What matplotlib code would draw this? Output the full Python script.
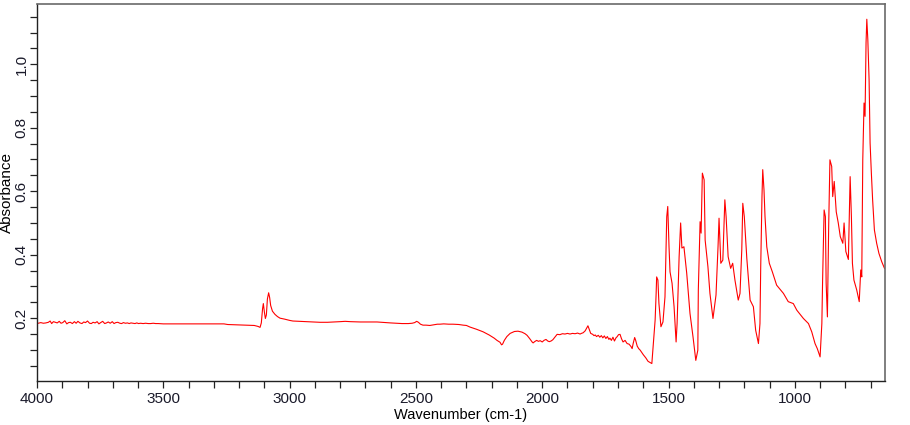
import numpy as np
import matplotlib
matplotlib.use("Agg")
import matplotlib.pyplot as plt
from matplotlib.ticker import MultipleLocator, FixedLocator

plt.rcParams['font.family'] = ['Liberation Sans', 'DejaVu Sans']

# ------------------------------------------------------------------
# spectrum data (wavenumber cm-1 / absorbance)
# ------------------------------------------------------------------
wn_high = [4000, 3995, 3985, 3975, 3965, 3955, 3948, 3942, 3935, 3928,
           3920, 3912, 3905, 3898, 3890, 3882, 3875, 3868, 3860, 3852,
           3845, 3838, 3830, 3822, 3815, 3808, 3800, 3792, 3785, 3778,
           3770, 3762, 3755, 3748, 3740, 3732, 3725, 3718, 3710, 3702,
           3695, 3688, 3680, 3672, 3665, 3658, 3650, 3642, 3635, 3628,
           3620, 3612, 3605, 3598, 3590, 3580, 3570, 3560, 3550, 3540,
           3530, 3520, 3500]
abs_high = [.184, .184, .186, .184, .185, .187, .191, .183, .189, .187,
            .185, .190, .184, .186, .192, .182, .186, .187, .183, .189,
            .184, .190, .185, .183, .188, .186, .191, .184, .183, .187,
            .185, .189, .182, .186, .190, .183, .185, .188, .184, .189,
            .183, .186, .187, .184, .183, .186, .184, .185, .183, .185,
            .184, .183, .185, .183, .184, .183, .184, .183, .183, .184,
            .183, .183, .182]

wn_mid = [3260, 3245, 3180, 3140, 3125, 3117, 3112, 3107, 3104, 3100,
          3096, 3092, 3088, 3083, 3079, 3075, 3068, 3058, 3048, 3038,
          3020, 3000, 2987, 2960, 2930, 2900, 2880, 2850, 2820, 2800,
          2780, 2760, 2720, 2680, 2654, 2620, 2600, 2580, 2555, 2530,
          2515, 2505, 2497, 2490, 2482, 2472, 2460, 2445, 2430, 2415,
          2405, 2390, 2370, 2353, 2330, 2313, 2300, 2294, 2286, 2260,
          2234, 2210, 2190, 2179, 2167, 2161, 2157, 2150, 2140, 2127,
          2110, 2096, 2080, 2068, 2060, 2050, 2040, 2036, 2030, 2022,
          2015, 2008, 2000]
abs_mid = [.182, .180, .178, .177, .174, .171, .185, .230, .246, .220,
           .199, .210, .260, .280, .265, .240, .222, .212, .205, .200,
           .197, .193, .191, .190, .189, .188, .187, .187, .188, .189,
           .190, .189, .188, .188, .188, .186, .185, .184, .183, .183,
           .184, .186, .190, .187, .181, .178, .178, .177, .179, .181,
           .181, .182, .181, .181, .180, .178, .177, .175, .172, .165,
           .157, .147, .137, .130, .124, .116, .118, .130, .142, .152,
           .158, .159, .156, .151, .146, .136, .125, .122, .126, .130,
           .127, .129, .125]

wn_low = [1993, 1985, 1978, 1972, 1965, 1958, 1950, 1941, 1930, 1920,
          1910, 1900, 1890, 1880, 1870, 1860, 1850, 1845, 1838, 1830,
          1822, 1819, 1814, 1808, 1800, 1795, 1790, 1785, 1778, 1772,
          1766, 1760, 1754, 1748, 1742, 1736, 1732, 1726, 1720, 1714,
          1708, 1703, 1698, 1692, 1686, 1680, 1672, 1664, 1656, 1648,
          1644, 1640, 1634, 1630, 1624, 1618]
abs_low = [.130, .133, .128, .126, .128, .132, .140, .149, .148, .151,
           .150, .152, .150, .152, .151, .153, .150, .152, .154, .160,
           .172, .176, .165, .152, .149, .145, .147, .142, .146, .140,
           .145, .138, .144, .136, .142, .133, .137, .130, .140, .128,
           .138, .142, .148, .149, .135, .125, .130, .120, .118, .110,
           .104, .120, .139, .130, .112, .104]

wn_fp = [1612, 1600, 1590, 1581, 1572, 1566, 1560, 1553, 1549, 1547,
         1542, 1538, 1530, 1522, 1514, 1507, 1503, 1498, 1494, 1486,
         1478, 1470, 1466, 1458, 1452, 1447, 1439, 1428, 1415, 1403,
         1392, 1384, 1382, 1375, 1371, 1366, 1359, 1355, 1344, 1336,
         1324, 1312, 1304, 1300, 1293, 1285, 1277, 1272, 1264, 1254,
         1246, 1237, 1224, 1217, 1210, 1206, 1200, 1190, 1177, 1164,
         1155, 1144, 1138, 1135, 1130, 1127, 1122, 1118, 1111, 1101,
         1089, 1072, 1045, 1026, 1006, 992, 966, 946, 933, 920,
         911, 900, 893, 890, 884, 879, 876, 871, 866, 861,
         854, 850, 844, 836, 828, 820, 810, 805, 798, 788,
         781, 776, 772, 766, 755, 745, 739, 735, 731, 726,
         722, 718, 715, 711, 706, 702, 697, 692, 685, 676,
         667, 656, 645]
abs_fp = [.099, .085, .075, .064, .060, .057, .120, .194, .278, .330,
          .320, .247, .173, .188, .267, .520, .552, .425, .346, .310,
          .236, .125, .184, .394, .500, .421, .425, .342, .215, .141,
          .067, .099, .289, .504, .468, .657, .636, .446, .362, .278,
          .199, .273, .425, .515, .373, .383, .573, .520, .394, .357,
          .373, .320, .257, .278, .415, .562, .520, .388, .257, .236,
          .162, .120, .183, .362, .583, .668, .604, .520, .425, .373,
          .346, .304, .278, .252, .246, .225, .199, .183, .157, .120,
          .104, .078, .183, .320, .541, .520, .310, .204, .488, .699,
          .678, .583, .631, .535, .500, .457, .436, .500, .410, .385,
          .646, .520, .373, .320, .289, .252, .352, .330, .699, .878,
          .836, 1.068, 1.142, 1.078, .952, .752, .657, .573, .478, .436,
          .404, .378, .357]

x_major = [4000, 3500, 3000, 2500, 2000, 1500, 1000]
y_major = [0.2, 0.4, 0.6, 0.8, 1.0]

wavenumber = np.array(wn_high + wn_mid + wn_low + wn_fp, dtype=float)
absorbance = np.array(abs_high + abs_mid + abs_low + abs_fp, dtype=float)
assert len(wavenumber) == len(absorbance)

# ------------------------------------------------------------------
fig = plt.figure(figsize=(9.10, 4.25), dpi=100)
ax = fig.add_axes([37 / 910, 1 - 381 / 425, 848 / 910, 377 / 425])

ax.plot(wavenumber, absorbance, color='#ff0000', linewidth=0.8)

ax.set_xlim(4000, 643)
ax.set_ylim(0.002, 1.19)

ax.xaxis.set_major_locator(FixedLocator(x_major))
ax.xaxis.set_minor_locator(MultipleLocator(100))
ax.yaxis.set_major_locator(FixedLocator(y_major))
ax.yaxis.set_minor_locator(MultipleLocator(0.05))
ax.set_xticklabels([str(v) for v in x_major])
ax.set_yticklabels([f"{v:.1f}" for v in y_major], rotation=90, va='center')

ax.tick_params(axis='both', which='both', direction='out', length=5,
               width=0.9, color='#222222', labelsize=11, labelcolor='#1a1a2a')
ax.tick_params(axis='x', which='major', pad=3)
ax.tick_params(axis='y', which='major', pad=1)

for side in ('left', 'bottom'):
    ax.spines[side].set_color('#222222')
    ax.spines[side].set_linewidth(1.0)
for side in ('top', 'right'):
    ax.spines[side].set_color('#6a6a6a')
    ax.spines[side].set_linewidth(1.2)

ax.set_xlabel("Wavenumber (cm-1)", fontsize=10.5, labelpad=1)
ax.set_ylabel("Absorbance", fontsize=11)
ax.yaxis.set_label_coords(-0.027, 0.5)

fig.savefig("out.png", dpi=100)
